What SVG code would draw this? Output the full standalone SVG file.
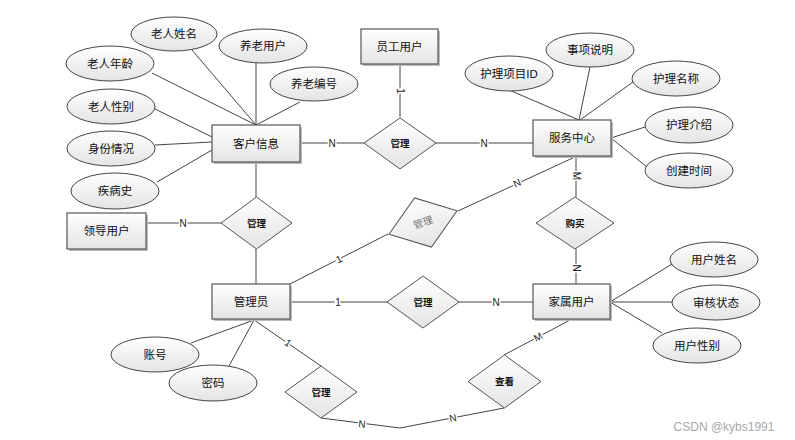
<svg xmlns="http://www.w3.org/2000/svg" width="795" height="440" viewBox="0 0 795 440">
<defs>
<linearGradient id="g" x1="0" y1="0" x2="0" y2="1">
<stop offset="0" stop-color="#ffffff"/>
<stop offset="1" stop-color="#e4e4e4"/>
</linearGradient>
<style>
.ent rect.b{fill:url(#g);stroke:#555;stroke-width:1.2}
.ent rect.s{fill:#bbb}
.att ellipse{fill:url(#g);stroke:#444;stroke-width:1}
.rel polygon{fill:url(#g);stroke:#555;stroke-width:1}
text{font-family:"Liberation Sans","Noto Sans CJK SC",sans-serif;text-anchor:middle;dominant-baseline:central;fill:#111}
.t{font-size:11.5px}
.d{font-size:9.5px;font-weight:bold}
.lbl{font-size:10px;stroke:#fff;stroke-width:3px;paint-order:stroke;fill:#222}
#conn line,#conn polyline{stroke:#444;stroke-width:1;fill:none}
</style>
</defs>
<rect width="795" height="440" fill="#fff"/>
<g id="conn">
<line x1="192" y1="50" x2="256" y2="125"/>
<line x1="256" y1="63" x2="256" y2="125"/>
<line x1="152" y1="73" x2="256" y2="125"/>
<line x1="300" y1="102" x2="256" y2="125"/>
<line x1="155" y1="109" x2="212" y2="137"/>
<line x1="155" y1="145" x2="212" y2="142"/>
<line x1="157" y1="182" x2="212" y2="150"/>
<line x1="300" y1="143" x2="364" y2="143"/>
<line x1="436" y1="143" x2="533" y2="143"/>
<line x1="400" y1="64" x2="400" y2="117"/>
<line x1="509" y1="90" x2="579" y2="120"/>
<line x1="590" y1="67" x2="579" y2="120"/>
<line x1="633" y1="82" x2="580" y2="120"/>
<line x1="645" y1="127" x2="611" y2="138"/>
<line x1="647" y1="167" x2="611" y2="138"/>
<line x1="576" y1="156" x2="576" y2="197"/>
<line x1="576" y1="249" x2="576" y2="284"/>
<line x1="577" y1="156" x2="458" y2="211"/>
<line x1="290" y1="284" x2="388" y2="234"/>
<line x1="256" y1="162" x2="256" y2="197"/>
<line x1="256" y1="249" x2="256" y2="284"/>
<line x1="146" y1="223" x2="221" y2="223"/>
<line x1="290" y1="302" x2="387" y2="302"/>
<line x1="459" y1="302" x2="533" y2="302"/>
<line x1="610" y1="302" x2="672" y2="264"/>
<line x1="610" y1="302" x2="673" y2="302"/>
<line x1="610" y1="302" x2="662" y2="333"/>
<line x1="254" y1="320" x2="191" y2="343"/>
<line x1="254" y1="320" x2="229" y2="366"/>
<line x1="254" y1="320" x2="321" y2="366"/>
<polyline points="321,418 400,428 504,408"/>
<line x1="504" y1="355" x2="572" y2="319"/>
<text class="lbl" x="332" y="143">N</text>
<text class="lbl" x="484" y="143">N</text>
<text class="lbl" transform="translate(400,91) rotate(90)">1</text>
<text class="lbl" transform="translate(576,176) rotate(90)">M</text>
<text class="lbl" transform="translate(576,268) rotate(90)">N</text>
<text class="lbl" transform="translate(517,183) rotate(-25)">N</text>
<text class="lbl" transform="translate(339,259) rotate(-27)">1</text>
<text class="lbl" x="183" y="223">N</text>
<text class="lbl" x="338" y="302">1</text>
<text class="lbl" x="496" y="302">N</text>
<text class="lbl" transform="translate(288,343) rotate(34)">1</text>
<text class="lbl" transform="translate(362,424) rotate(7)">N</text>
<text class="lbl" transform="translate(453,418) rotate(-11)">N</text>
<text class="lbl" transform="translate(538,337) rotate(-28)">M</text>
</g>
<g id="e-kehu" class="ent"><rect class="s" x="214" y="127" width="88" height="37"/><rect class="b" x="212" y="125" width="88" height="37"/><text class="t" x="256" y="143.5">客户信息</text></g>
<g id="e-yuangong" class="ent"><rect class="s" x="363" y="31" width="77" height="35"/><rect class="b" x="361" y="29" width="77" height="35"/><text class="t" x="399.5" y="46.5">员工用户</text></g>
<g id="e-fuwu" class="ent"><rect class="s" x="535" y="122" width="78" height="36"/><rect class="b" x="533" y="120" width="78" height="36"/><text class="t" x="572" y="138">服务中心</text></g>
<g id="e-lingdao" class="ent"><rect class="s" x="69" y="215" width="79" height="36"/><rect class="b" x="67" y="213" width="79" height="36"/><text class="t" x="106.5" y="231">领导用户</text></g>
<g id="e-guanli" class="ent"><rect class="s" x="214" y="286" width="78" height="35"/><rect class="b" x="212" y="284" width="78" height="35"/><text class="t" x="251" y="301.5">管理员</text></g>
<g id="e-jiashu" class="ent"><rect class="s" x="535" y="286" width="77" height="35"/><rect class="b" x="533" y="284" width="77" height="35"/><text class="t" x="571.5" y="301.5">家属用户</text></g>
<g id="a1" class="att"><ellipse cx="174" cy="34" rx="43" ry="17"/><text class="t" x="174" y="34">老人姓名</text></g>
<g id="a2" class="att"><ellipse cx="263" cy="46" rx="44" ry="17"/><text class="t" x="263" y="46">养老用户</text></g>
<g id="a3" class="att"><ellipse cx="110" cy="63.5" rx="44" ry="17.5"/><text class="t" x="110" y="63.5">老人年龄</text></g>
<g id="a4" class="att"><ellipse cx="314" cy="84" rx="44" ry="17"/><text class="t" x="314" y="84">养老编号</text></g>
<g id="a5" class="att"><ellipse cx="111" cy="106.5" rx="44" ry="17.5"/><text class="t" x="111" y="106.5">老人性别</text></g>
<g id="a6" class="att"><ellipse cx="111" cy="148.5" rx="44" ry="17.5"/><text class="t" x="111" y="148.5">身份情况</text></g>
<g id="a7" class="att"><ellipse cx="115" cy="191" rx="44" ry="18"/><text class="t" x="115" y="191">疾病史</text></g>
<g id="a8" class="att"><ellipse cx="509" cy="73.5" rx="44" ry="17.5"/><text class="t" x="509" y="73.5">护理项目ID</text></g>
<g id="a9" class="att"><ellipse cx="590" cy="50" rx="44" ry="17"/><text class="t" x="590" y="50">事项说明</text></g>
<g id="a10" class="att"><ellipse cx="676" cy="78.5" rx="44" ry="17.5"/><text class="t" x="676" y="78.5">护理名称</text></g>
<g id="a11" class="att"><ellipse cx="689" cy="125" rx="44" ry="18"/><text class="t" x="689" y="125">护理介绍</text></g>
<g id="a12" class="att"><ellipse cx="689" cy="170.5" rx="44" ry="17.5"/><text class="t" x="689" y="170.5">创建时间</text></g>
<g id="a13" class="att"><ellipse cx="714" cy="259.5" rx="44" ry="17.5"/><text class="t" x="714" y="259.5">用户姓名</text></g>
<g id="a14" class="att"><ellipse cx="716" cy="302.5" rx="44" ry="17.5"/><text class="t" x="716" y="302.5">审核状态</text></g>
<g id="a15" class="att"><ellipse cx="697" cy="345.5" rx="44" ry="17.5"/><text class="t" x="697" y="345.5">用户性别</text></g>
<g id="a16" class="att"><ellipse cx="155" cy="354.5" rx="44" ry="17.5"/><text class="t" x="155" y="354.5">账号</text></g>
<g id="a17" class="att"><ellipse cx="213" cy="383" rx="44" ry="18"/><text class="t" x="213" y="383">密码</text></g>
<g id="r1" class="rel"><polygon points="364,143 400,118 436,143 400,169"/><text class="d" x="400" y="143">管理</text></g>
<g id="r2" class="rel"><polygon points="221,223 256.5,197 292,223 256.5,249"/><text class="d" x="256.5" y="223">管理</text></g>
<g id="r3" class="rel" transform="translate(423,222.5) rotate(-19)"><polygon points="-36,0 0,-26 36,0 0,26"/><text x="0" y="0" style="font-size:10px;fill:#777">管理</text></g>
<g id="r4" class="rel"><polygon points="387,302 423,276 459,302 423,328"/><text class="d" x="423" y="302">管理</text></g>
<g id="r5" class="rel"><polygon points="536,223 575,197 614,223 575,249"/><text class="d" x="575" y="223">购买</text></g>
<g id="r6" class="rel"><polygon points="285,392 321,366 357,392 321,418"/><text class="d" x="321" y="392">管理</text></g>
<g id="r7" class="rel"><polygon points="468,381.5 504.5,355 541,381.5 504.5,408"/><text class="d" x="504.5" y="381.5">查看</text></g>
<text x="724" y="427" style="font-size:12px;fill:#aaa">CSDN @kybs1991</text>
</svg>
